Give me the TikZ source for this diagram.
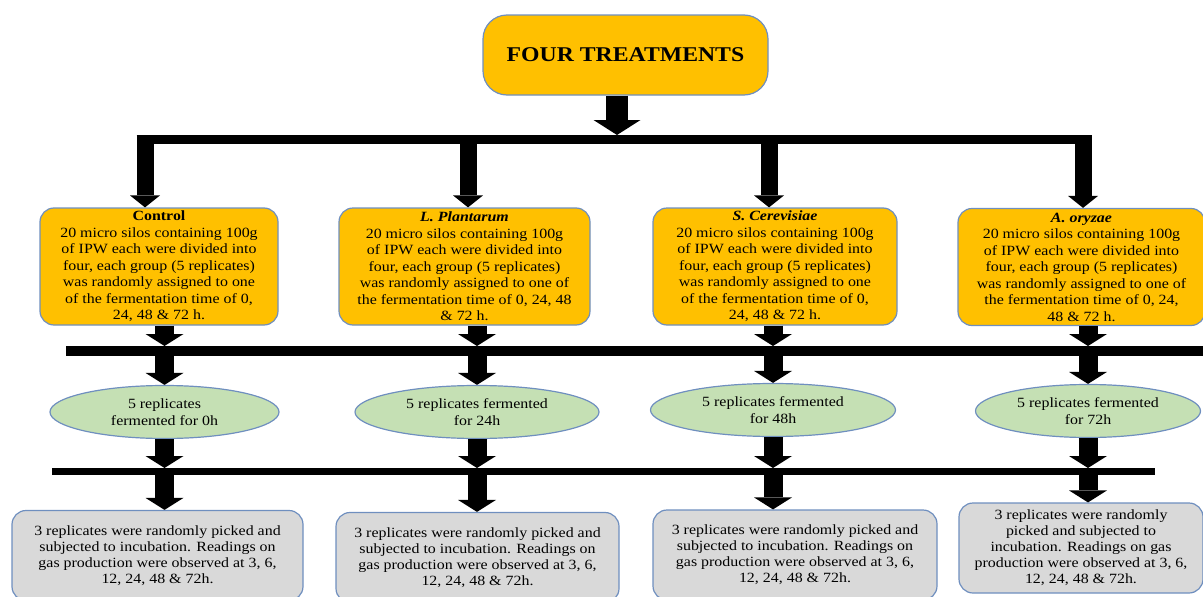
\documentclass[tikz,border=0pt]{standalone}
\usepackage{fontspec}
\setmainfont{Liberation Serif}[FakeStretch=1.13]
\usetikzlibrary{positioning,shapes.geometric,arrows.meta}
\definecolor{treatfill}{HTML}{FFC000}
\definecolor{eggfill}{HTML}{C5E0B4}
\definecolor{greyfill}{HTML}{D9D9D9}
\definecolor{rimblue}{HTML}{6F8FBF}

\begin{document}
\begin{tikzpicture}[x=1pt,y=-1pt,
  titlebox/.style={draw=rimblue,line width=1.2pt,fill=treatfill,rounded corners=24pt,
    minimum width=285pt,minimum height=80pt,font={\fontsize{21}{24}\selectfont\bfseries}},
  treat/.style={draw=rimblue,line width=1.2pt,fill=treatfill,rounded corners=14pt,
    align=center,inner sep=0pt,minimum height=117pt,font={\fontsize{14.1}{16.5}\selectfont}},
  egg/.style={ellipse,draw=rimblue,line width=1.2pt,fill=eggfill,align=center,
    inner sep=0pt,minimum height=53pt,font={\fontsize{14.1}{17}\selectfont}},
  result/.style={draw=rimblue,line width=1.2pt,fill=greyfill,rounded corners=14pt,
    align=center,inner sep=0pt,minimum height=90pt,font={\fontsize{14.1}{16}\selectfont}},
  bar/.style={line width=#1},
  bigarrow/.style={line width=22pt,-{Triangle[width=47pt,length=15pt,line width=0pt]}},
  droparrow/.style={line width=17pt,-{Triangle[width=30pt,length=12pt,line width=0pt]}},
  fatarrow/.style={line width=19pt,-{Triangle[width=38pt,length=12pt,line width=0pt]}}
]
\useasboundingbox (0,0) rectangle (1203,597);

% bar heights
\def\ybara{139.5};
\def\ybarb{351};
\def\ybarc{471.5};

% title
\node[titlebox] (four) at (625.5,55) {FOUR TREATMENTS};

% treatment boxes
\node[treat,minimum width=238pt] (ctrl) at (159,266.5)
  {\textbf{Control}\\20 micro silos containing 100g\\of IPW each were divided into\\four, each group (5 replicates)\\was randomly assigned to one\\of the fermentation time of 0,\\24, 48 \& 72 h.};
\node[treat,minimum width=251pt] (plant) at (464.5,266.5)
  {\textbf{\textit{L. Plantarum}}\\20 micro silos containing 100g\\of IPW each were divided into\\four, each group (5 replicates)\\was randomly assigned to one of\\the fermentation time of 0, 24, 48\\\& 72 h.};
\node[treat,minimum width=244pt] (cere) at (775,266.5)
  {\textbf{\textit{S. Cerevisiae}}\\20 micro silos containing 100g\\of IPW each were divided into\\four, each group (5 replicates)\\was randomly assigned to one\\of the fermentation time of 0,\\24, 48 \& 72 h.};
\node[treat,minimum width=247pt] (oryz) at (1081.5,267)
  {\textbf{\textit{A. oryzae}}\\20 micro silos containing 100g\\of IPW each were divided into\\four, each group (5 replicates)\\was randomly assigned to one of\\the fermentation time of 0, 24,\\48 \& 72 h.};

% fermentation times
\node[egg,minimum width=229pt] (e1) at (164.5,412) {5 replicates\\fermented for 0h};
\node[egg,minimum width=244pt] (e2) at (477,412) {5 replicates fermented\\for 24h};
\node[egg,minimum width=245pt] (e3) at (773,410) {5 replicates fermented\\for 48h};
\node[egg,minimum width=225pt] (e4) at (1088,411) {5 replicates fermented\\for 72h};

% incubation
\node[result,minimum width=291pt] (g1) at (157.5,555.5)
  {3 replicates were randomly picked and\\subjected to incubation. Readings on\\gas production were observed at 3, 6,\\12, 24, 48 \& 72h.};
\node[result,minimum width=283pt] (g2) at (477.5,557.5)
  {3 replicates were randomly picked and\\subjected to incubation. Readings on\\gas production were observed at 3, 6,\\12, 24, 48 \& 72h.};
\node[result,minimum width=284pt] (g3) at (795,555)
  {3 replicates were randomly picked and\\subjected to incubation. Readings on\\gas production were observed at 3, 6,\\12, 24, 48 \& 72h.};
\node[result,minimum width=244pt] (g4) at (1081,548)
  {3 replicates were randomly\\picked and subjected to\\incubation. Readings on gas\\production were observed at 3, 6,\\12, 24, 48 \& 72h.};

% bars
\coordinate (b1l) at (136.5,\ybara);
\coordinate (b1r) at (1091.5,\ybara);
\coordinate (b2l) at (66,\ybarb);
\coordinate (b2r) at (1215,\ybarb);
\coordinate (b3l) at (52,\ybarc);
\coordinate (b3r) at (1155,\ybarc);
\draw[bar=9pt] (b1l) -- (b1r);
\draw[bar=10pt] (b2l) -- (b2r);
\draw[bar=7pt] (b3l) -- (b3r);

% bar edges
\coordinate (b1t) at (0,135);
\coordinate (b2t) at (0,346);
\coordinate (b2b) at (0,356);
\coordinate (b3t) at (0,468);
\coordinate (b3b) at (0,475);

% title to first bar
\coordinate (tb) at (617,135);
\draw[bigarrow] (tb |- four.south) -- (tb);

% first bar to treatments
\coordinate (t1) at (145,135);
\coordinate (t2) at (468,135);
\coordinate (t3) at (769,135);
\coordinate (t4) at (1083,135);
\draw[droparrow] (t1) -- (t1 |- ctrl.north);
\draw[droparrow] (t2) -- (t2 |- plant.north);
\draw[droparrow] (t3) -- (t3 |- cere.north);
\draw[droparrow] (t4) -- (t4 |- oryz.north);

% treatments down to incubation
\draw[fatarrow] (e1 |- ctrl.south) -- (e1 |- b2t);
\draw[fatarrow] (e1 |- b2b) -- (e1.north);
\draw[fatarrow] (e1.south) -- (e1 |- b3t);
\draw[fatarrow] (e1 |- b3b) -- (e1 |- g1.north);

\draw[fatarrow] (e2 |- plant.south) -- (e2 |- b2t);
\draw[fatarrow] (e2 |- b2b) -- (e2.north);
\draw[fatarrow] (e2.south) -- (e2 |- b3t);
\draw[fatarrow] (e2 |- b3b) -- (e2 |- g2.north);

\draw[fatarrow] (e3 |- cere.south) -- (e3 |- b2t);
\draw[fatarrow] (e3 |- b2b) -- (e3.north);
\draw[fatarrow] (e3.south) -- (e3 |- b3t);
\draw[fatarrow] (e3 |- b3b) -- (e3 |- g3.north);

\draw[fatarrow] (e4 |- oryz.south) -- (e4 |- b2t);
\draw[fatarrow] (e4 |- b2b) -- (e4.north);
\draw[fatarrow] (e4.south) -- (e4 |- b3t);
\draw[fatarrow] (e4 |- b3b) -- (e4 |- g4.north);

\end{tikzpicture}
\end{document}
